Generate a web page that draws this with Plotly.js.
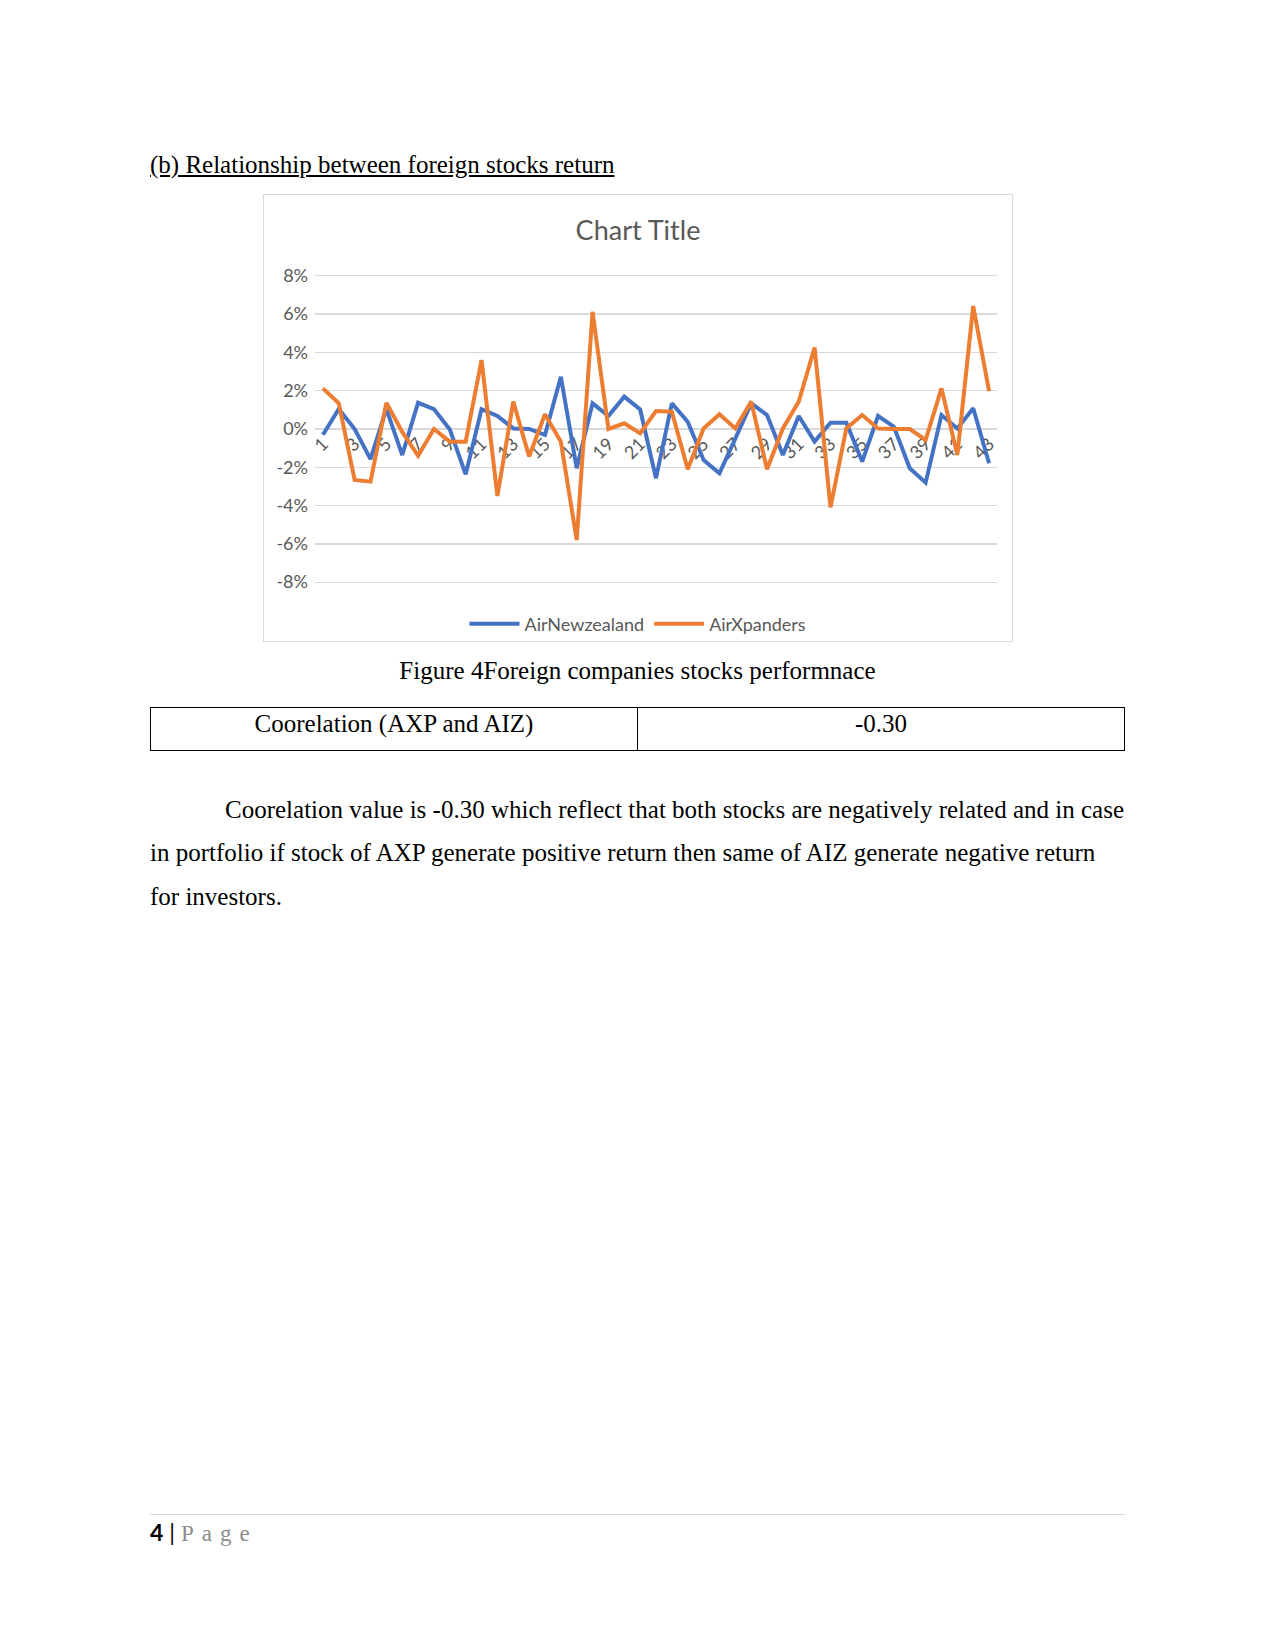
<!DOCTYPE html>
<html>
<head>
<meta charset="utf-8">
<script src="https://cdn.plot.ly/plotly-3.0.1.min.js"></script>
<style>
  html, body { margin: 0; padding: 0; background: #ffffff; }
  body { width: 1275px; height: 1650px; position: relative; overflow: hidden; font-family: "Liberation Serif", "Times New Roman", serif; color: #000; }
  .t { position: absolute; white-space: nowrap; font-size: 25px; line-height: 30px; }
  #chart { position: absolute; left: 263px; top: 194px; width: 750px; height: 448px; }
  #chartBorder { position: absolute; left: 263px; top: 194px; width: 750px; height: 448px; box-sizing: border-box; border: 1px solid #d9d9d9; pointer-events: none; }
  table { position: absolute; left: 150px; top: 707px; width: 975px; height: 44px; border-collapse: collapse; }
  td { border: 1px solid #000; font-size: 25px; text-align: center; vertical-align: top; padding: 1px 0 0 0; line-height: 30px; width: 50%; }
  #rule { position: absolute; left: 150px; top: 1514px; width: 975px; height: 0; border-top: 1px solid #d9d9d9; }
</style>
</head>
<body>
<div class="t" style="left:150px; top:150px; text-decoration: underline;">(b) Relationship between foreign stocks return</div>
<div id="chart"></div>
<div id="chartBorder"></div>
<div class="t" style="left:0; width:1275px; text-align:center; top:656px;">Figure 4Foreign companies stocks performnace</div>
<table><tr><td>Coorelation (AXP and AIZ)</td><td>-0.30</td></tr></table>
<div class="t" style="left:225px; top:795px;">Coorelation value is -0.30 which reflect that both stocks are negatively related and in case</div>
<div class="t" style="left:150px; top:838px;">in portfolio if stock of AXP generate positive return then same of AIZ generate negative return</div>
<div class="t" style="left:150px; top:882px;">for investors.</div>
<div id="rule"></div>
<div class="t" style="left:150px; top:1517px; font-size:23px;"><span style="font-family:Lato; font-weight:bold;">4</span><span style="font-family:Lato;"> | </span><span style="color:#8c8c8c; letter-spacing:8px;">Page</span></div>

<script>
const categories = ['1','2','3','4','5','6','7','8','9','10','11','12','13','14','15','16','17','18','19','20','21','22','23','24','25','26','27','28','29','30','31','32','33','34','35','36','37','38','39','40','41','42','43'];
const xTickVals = ['1','3','5','7','9','11','13','15','17','19','21','23','25','27','29','31','33','35','37','39','41','43'];
const xTickText = ['1','3','5','7','9','11','13','15','17','19','21','23','25','27','29','31','33','35','37','39','41','43'];
const yTickVals = [-0.08, -0.06, -0.04, -0.02, 0, 0.02, 0.04, 0.06, 0.08];
const yTickText = ['-8%', '-6%', '-4%', '-2%', '0%', '2%', '4%', '6%', '8%'];

const airNewzealand = [
  -0.0030, 0.0105, 0.0000, -0.0157, 0.0105, -0.0136, 0.0137, 0.0104, -0.0003, -0.0237,
  0.0103, 0.0068, 0.0003, 0.0000, -0.0031, 0.0273, -0.0205, 0.0134, 0.0068, 0.0169,
  0.0102, -0.0257, 0.0134, 0.0038, -0.0162, -0.0231, -0.0050, 0.0134, 0.0073, -0.0136,
  0.0068, -0.0066, 0.0033, 0.0033, -0.0170, 0.0068, 0.0012, -0.0205, -0.0280, 0.0073,
  0.0003, 0.0108, -0.0179
];
const airXpanders = [
  0.0212, 0.0134, -0.0266, -0.0275, 0.0137, -0.0015, -0.0140, 0.0000, -0.0066, -0.0066,
  0.0360, -0.0350, 0.0143, -0.0144, 0.0077, -0.0066, -0.0580, 0.0612, 0.0000, 0.0030,
  -0.0023, 0.0094, 0.0090, -0.0210, 0.0003, 0.0077, 0.0003, 0.0143, -0.0210, 0.0003,
  0.0143, 0.0426, -0.0409, 0.0003, 0.0073, 0.0003, 0.0000, 0.0000, -0.0057, 0.0212,
  -0.0136, 0.0642, 0.0198
];

const grey = '#595959';
const fam = 'Lato, Carlito, sans-serif';
const traces = [
  { type: 'scatter', mode: 'lines', name: 'AirNewzealand', x: categories, y: airNewzealand,
    line: { color: '#4472C4', width: 4, shape: 'linear' } },
  { type: 'scatter', mode: 'lines', name: 'AirXpanders', x: categories, y: airXpanders,
    line: { color: '#ED7D31', width: 4, shape: 'linear' } }
];

const layout = {
  width: 750, height: 448,
  margin: { l: 51.5, r: 16, t: 77.9, b: 55.9, autoexpand: false },
  paper_bgcolor: '#ffffff', plot_bgcolor: '#ffffff',
  font: { family: fam, color: grey, size: 18 },
  title: { text: 'Chart Title', x: 0.5, xref: 'container', xanchor: 'center', y: 1 - 37 / 448, yref: 'container', yanchor: 'middle',
           font: { family: fam, size: 27, color: grey } },
  showlegend: true,
  legend: { orientation: 'h', x: 0.5, xref: 'container', xanchor: 'center', y: 1 - (624 - 194) / 448, yref: 'container', yanchor: 'middle',
            itemwidth: 50, font: { family: fam, size: 18, color: grey }, bgcolor: 'rgba(0,0,0,0)' },
  xaxis: { type: 'category', categoryorder: 'array', categoryarray: categories, range: [-0.5, 42.5],
           anchor: 'free', position: 0.5, showline: false, showgrid: false, zeroline: false, ticks: '',
           tickmode: 'array', tickvals: xTickVals, ticktext: xTickText, tickangle: -45, layer: 'below traces',
           tickfont: { family: fam, size: 18, color: grey }, fixedrange: true },
  yaxis: { range: [-0.082, 0.082], domain: [0, 1], tickmode: 'array', tickvals: yTickVals, ticktext: yTickText,
           showgrid: true, gridcolor: '#d9d9d9', gridwidth: 1.3, zeroline: false, showline: false, ticks: '',
           ticklabelstandoff: 6, layer: 'below traces',
           tickfont: { family: fam, size: 18, color: grey }, fixedrange: true },
  hovermode: false
};

Plotly.newPlot('chart', traces, layout, { displayModeBar: false, staticPlot: true });
</script>
</body>
</html>
